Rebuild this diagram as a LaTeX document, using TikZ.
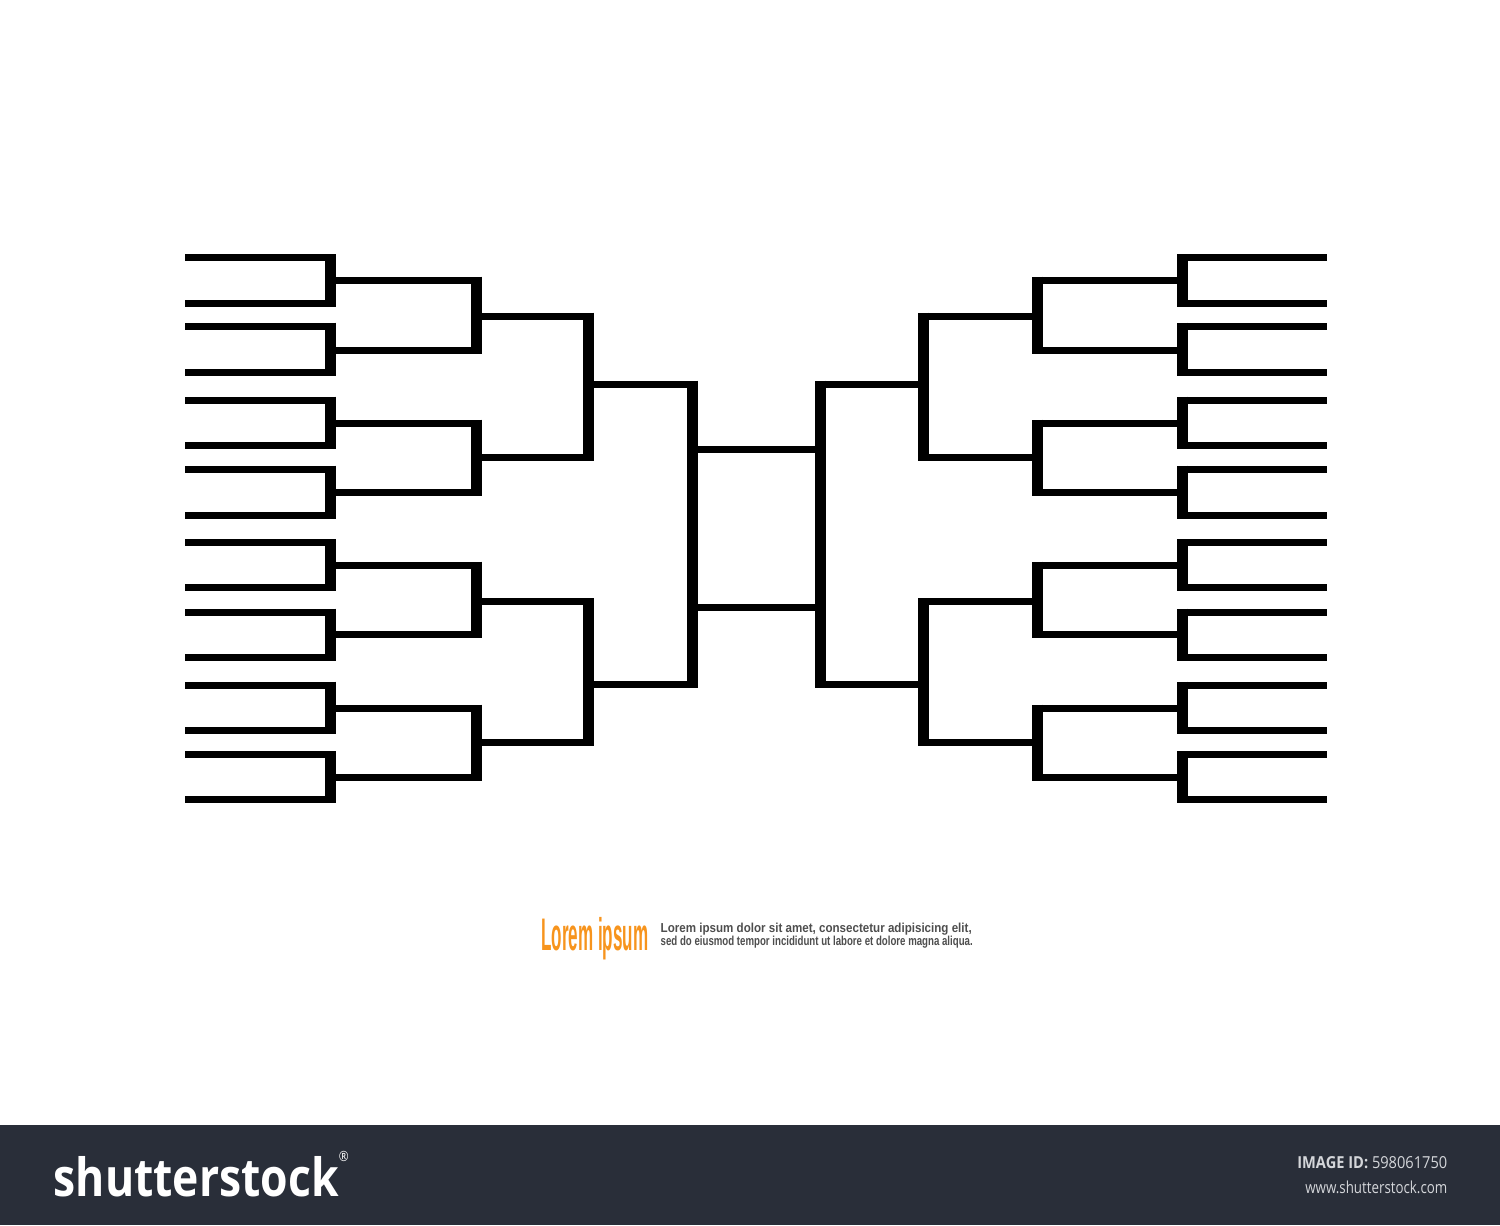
\documentclass[tikz,border=0pt]{standalone}
\usepackage{fontspec}
\setmainfont{Liberation Sans}
\newfontfamily\logofont{Open Sans}
\usetikzlibrary{positioning}
\definecolor{loremorange}{HTML}{F7941D}
\definecolor{loremgray}{HTML}{4E4E4E}
\definecolor{footbar}{HTML}{292E39}
\definecolor{footgray}{HTML}{D4D6DA}
\tikzset{
    hline/.style = {
        draw,
        line width=0.7mm
    },
    vline/.style = {
        draw,
        line width=1.1mm
    },
    title/.style = {
        text=loremorange,
        inner sep=0pt,
        anchor=base west
    },
    blurb/.style = {
        text=loremgray,
        inner sep=0pt,
        anchor=base west,
        align=left,
        font=\bfseries\fontsize{3.7}{3.8}\selectfont
    },
    footer/.style = {
        text=footgray,
        inner sep=0pt,
        anchor=base east,
        font=\logofont\fontsize{4.7}{4.7}\selectfont
    },
}

\begin{document}
\begin{tikzpicture}[x=0.1mm, y=-0.1mm]
    \useasboundingbox (0,0) rectangle (1500,1225);
    \fill[white] (0,0) rectangle (1500,1225);
    \fill[footbar] (0,1125) rectangle (1500,1225);

    % left half
    \foreach \y in {257.5,303.5,326,372,400,445,469,515,542.5,587.5,612,657,685,730,754.5,799.5}
        \path[hline] (185,\y) -- (336,\y);
    \foreach \a/\b in {257.5/303.5,326/372,400/445,469/515,542.5/587.5,612/657,685/730,754.5/799.5}
        \path[vline] (330.5,\a-3.5) -- (330.5,\b+3.5);
    \foreach \y in {280,350,423,492,565,634,708,777}
        \path[hline] (336,\y) -- (482,\y);
    \foreach \a/\b in {280/350,423/492,565/634,708/777}
        \path[vline] (476.5,\a-3.5) -- (476.5,\b+3.5);
    \foreach \y in {316,457,601.5,742.5}
        \path[hline] (482,\y) -- (594,\y);
    \foreach \a/\b in {316/457,601.5/742.5}
        \path[vline] (588.5,\a-3.5) -- (588.5,\b+3.5);
    \foreach \y in {384,684.5}
        \path[hline] (594,\y) -- (698,\y);
    \path[vline] (692.5,380.5) -- (692.5,688);

    % final
    \foreach \y in {449,607}
        \path[hline] (698,\y) -- (815,\y);

    % right half
    \path[vline] (820.5,380.5) -- (820.5,688);
    \foreach \y in {384,684.5}
        \path[hline] (815,\y) -- (923.5,\y);
    \foreach \a/\b in {316/457,601.5/742.5}
        \path[vline] (923.5,\a-3.5) -- (923.5,\b+3.5);
    \foreach \y in {316,457,601.5,742.5}
        \path[hline] (929,\y) -- (1037.5,\y);
    \foreach \a/\b in {280/350,423/492,565/634,708/777}
        \path[vline] (1037.5,\a-3.5) -- (1037.5,\b+3.5);
    \foreach \y in {280,350,423,492,565,634,708,777}
        \path[hline] (1043,\y) -- (1182.5,\y);
    \foreach \a/\b in {257.5/303.5,326/372,400/445,469/515,542.5/587.5,612/657,685/730,754.5/799.5}
        \path[vline] (1182.5,\a-3.5) -- (1182.5,\b+3.5);
    \foreach \y in {257.5,303.5,326,372,400,445,469,515,542.5,587.5,612,657,685,730,754.5,799.5}
        \path[hline] (1177,\y) -- (1327,\y);

    % caption
    \node[title] (title) at (540.5,950) {\resizebox{10.7mm}{\height}{\bfseries\fontsize{13}{13}\selectfont Lorem ipsum}};
    \node[blurb] (blurb) at (660,945.7)
        {\resizebox{31.1mm}{\height}{Lorem ipsum dolor sit amet, consectetur adipisicing elit,}\\
         \resizebox{31.2mm}{\height}{sed do eiusmod tempor incididunt ut labore et dolore magna aliqua.}};

    % footer
    \node[inner sep=0pt, anchor=base west, text=white] (logo) at (53,1196)
        {\resizebox{29.5mm}{\height}{\logofont\bfseries\fontsize{15}{15}\selectfont shutterstock\raisebox{1.2ex}{\fontsize{4}{4}\selectfont\mdseries ®}}};
    \node[footer] (imageid) at (1448,1168.3) {\resizebox{15mm}{\height}{\textbf{IMAGE ID:} 598061750}};
    \node[footer] (site) at (1448,1193.3) {\resizebox{14.2mm}{\height}{www.shutterstock.com}};
\end{tikzpicture}
\end{document}
